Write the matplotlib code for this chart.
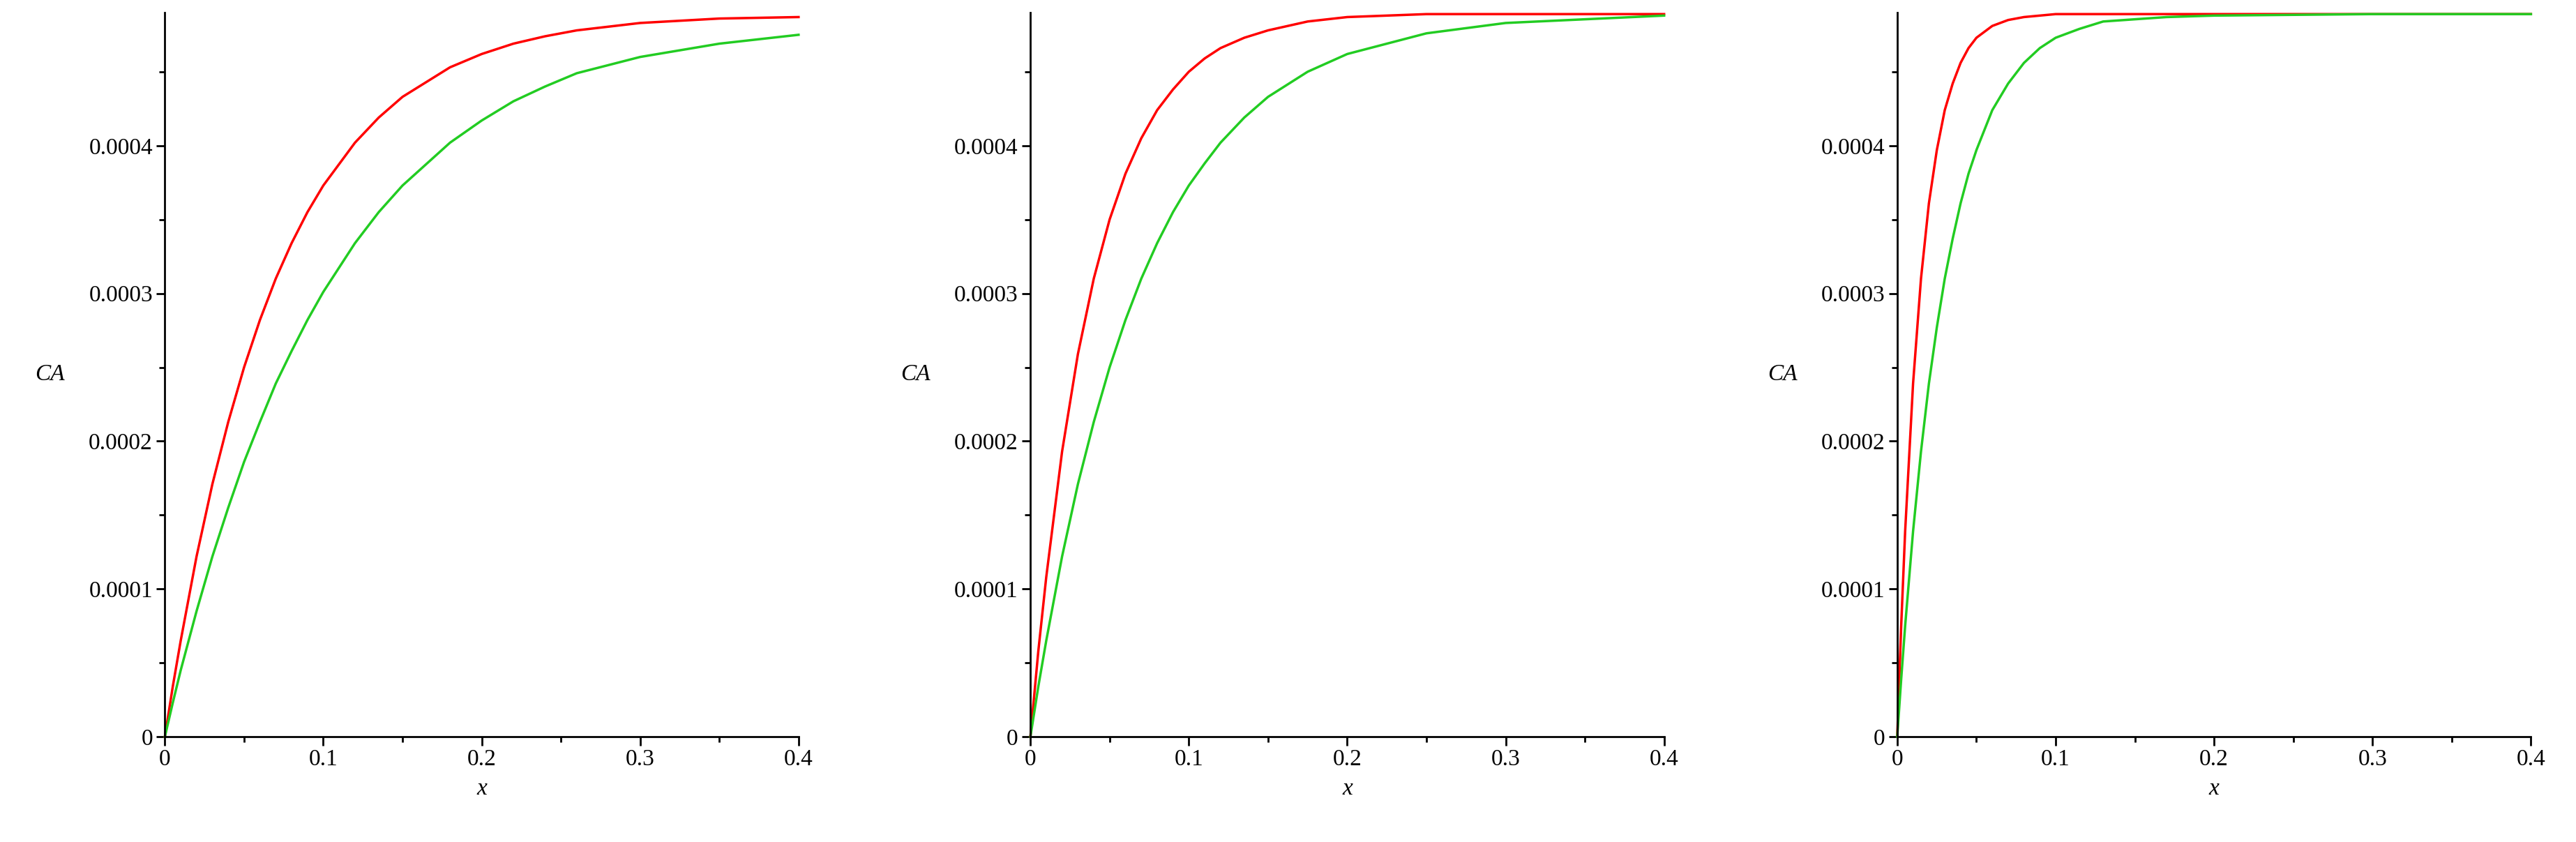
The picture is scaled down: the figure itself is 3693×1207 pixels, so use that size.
import matplotlib.pyplot as plt
from matplotlib.ticker import MultipleLocator, FuncFormatter

plt.rcParams["font.family"] = ["Liberation Serif", "DejaVu Serif"]

# values in units of 1e-4
x1 = [0, 0.005, 0.01, 0.02, 0.03, 0.04, 0.05, 0.06, 0.07, 0.08, 0.09, 0.1, 0.12, 0.135, 0.15,
      0.18, 0.2, 0.22, 0.24, 0.26, 0.3, 0.35, 0.4]
red1 = [0, 0.34, 0.65, 1.22, 1.71, 2.13, 2.50, 2.82, 3.10, 3.34, 3.55, 3.73, 4.02, 4.19, 4.33,
        4.53, 4.62, 4.69, 4.74, 4.78, 4.83, 4.86, 4.87]
green1 = [0, 0.23, 0.45, 0.85, 1.22, 1.55, 1.86, 2.13, 2.39, 2.61, 2.82, 3.01, 3.34, 3.55, 3.73,
          4.02, 4.17, 4.30, 4.40, 4.49, 4.60, 4.69, 4.75]

x2 = [0, 0.005, 0.01, 0.02, 0.03, 0.04, 0.05, 0.06, 0.07, 0.08, 0.09, 0.1, 0.11, 0.12, 0.135,
      0.15, 0.175, 0.2, 0.25, 0.3, 0.4]
red2 = [0, 0.58, 1.08, 1.93, 2.59, 3.10, 3.50, 3.81, 4.05, 4.24, 4.38, 4.50, 4.59, 4.66, 4.73,
        4.78, 4.84, 4.87, 4.89, 4.89, 4.89]
green2 = [0, 0.34, 0.65, 1.22, 1.71, 2.13, 2.50, 2.82, 3.10, 3.34, 3.55, 3.73, 3.88, 4.02, 4.19,
          4.33, 4.50, 4.62, 4.76, 4.83, 4.88]

x3 = [0, 0.0025, 0.005, 0.01, 0.015, 0.02, 0.025, 0.03, 0.035, 0.04, 0.045, 0.05, 0.06, 0.07,
      0.08, 0.09, 0.1, 0.115, 0.13, 0.17, 0.2, 0.3, 0.4]
red3 = [0, 0.75, 1.39, 2.39, 3.10, 3.61, 3.97, 4.24, 4.42, 4.56, 4.66, 4.73, 4.81, 4.85,
        4.87, 4.88, 4.89, 4.89, 4.89, 4.89, 4.89, 4.89, 4.89]
green3 = [0, 0.39, 0.75, 1.39, 1.93, 2.39, 2.77, 3.10, 3.37, 3.61, 3.81, 3.97, 4.24, 4.42,
          4.56, 4.66, 4.73, 4.79, 4.84, 4.87, 4.88, 4.89, 4.89]

panels = [(x1, red1, green1), (x2, red2, green2), (x3, red3, green3)]
lefts = [0.064, 0.40, 0.7365]

fig = plt.figure(figsize=(36.93, 12.07), dpi=100)

for (xs, r, g), left in zip(panels, lefts):
    ax = fig.add_axes([left, 0.125, 0.246, 0.86])
    ax.plot(xs, [v * 1e-4 for v in r], color="#ff0000", lw=2.5, clip_on=False)
    ax.plot(xs, [v * 1e-4 for v in g], color="#22cc22", lw=2.5, clip_on=False)
    ax.set_xlim(0, 0.4)
    ax.set_ylim(0, 0.00049)
    for s in ["top", "right"]:
        ax.spines[s].set_visible(False)
    for s in ["left", "bottom"]:
        ax.spines[s].set_linewidth(2)
    ax.xaxis.set_major_locator(MultipleLocator(0.1))
    ax.xaxis.set_minor_locator(MultipleLocator(0.05))
    ax.yaxis.set_major_locator(MultipleLocator(0.0001))
    ax.yaxis.set_minor_locator(MultipleLocator(0.00005))
    ax.xaxis.set_major_formatter(FuncFormatter(lambda v, p: "0" if v == 0 else f"{v:.1f}"))
    ax.yaxis.set_major_formatter(FuncFormatter(lambda v, p: "0" if v == 0 else f"{v:.4f}"))
    ax.tick_params(which="major", length=9, width=2, labelsize=24)
    ax.tick_params(which="minor", length=6, width=2)
    ax.set_xlabel("x", style="italic", fontsize=24, labelpad=8)
    ax.set_ylabel("CA", style="italic", fontsize=24, rotation=0, labelpad=40, va="center")

fig.savefig("out.png", dpi=100)
